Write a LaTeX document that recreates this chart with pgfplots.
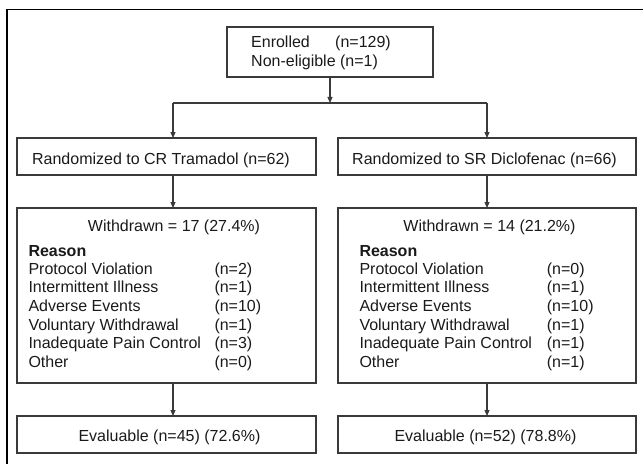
\documentclass[border=0pt]{standalone}
\usepackage{pgfplots}
\pgfplotsset{compat=1.18}
\usetikzlibrary{arrows.meta}
\usepackage{fontspec}
\setmainfont{Liberation Sans}
\definecolor{boxc}{HTML}{3A3A3A}
\definecolor{txt}{HTML}{1A1A1A}
\begin{document}
\begin{tikzpicture}
\begin{axis}[width=643bp,height=464bp,scale only axis,
  xmin=0,xmax=643,ymin=0,ymax=464,y dir=reverse,hide axis,clip=true,
  every axis plot/.append style={line join=miter},
  box/.style={draw=boxc,line width=1.1bp,mark=none},
  arr/.style={draw=boxc,line width=1.1bp,mark=none,-{Triangle[length=6bp,width=5bp]}},
  nodes={font=\fontsize{16bp}{19bp}\selectfont,text=txt,inner sep=0pt}]
\addplot[draw=none] coordinates {(0,0) (643,464)};
% outer frame
\addplot[black,line width=1.8bp,mark=none] coordinates {(7,480) (7,9.5) (660,9.5)};
% boxes
\addplot[box] coordinates {(227,27) (433,27) (433,77) (227,77)} -- cycle;
\addplot[box] coordinates {(17,138) (316,138) (316,175) (17,175)} -- cycle;
\addplot[box] coordinates {(338,138) (636,138) (636,175) (338,175)} -- cycle;
\addplot[box] coordinates {(17,208) (316,208) (316,383) (17,383)} -- cycle;
\addplot[box] coordinates {(338,208) (636,208) (636,383) (338,383)} -- cycle;
\addplot[box] coordinates {(17,416) (316,416) (316,453) (17,453)} -- cycle;
\addplot[box] coordinates {(338,416) (636,416) (636,453) (338,453)} -- cycle;
% connectors
\addplot[arr] coordinates {(330,77) (330,103)};
\addplot[box] coordinates {(173,103) (487,103)};
\addplot[arr] coordinates {(173,103) (173,138)};
\addplot[arr] coordinates {(487,103) (487,138)};
\addplot[arr] coordinates {(173,175) (173,208)};
\addplot[arr] coordinates {(487,175) (487,208)};
\addplot[arr] coordinates {(173,383) (173,416)};
\addplot[arr] coordinates {(487,383) (487,416)};
% texts
\node[anchor=base west] at (axis cs:251,47.7) {Enrolled};
\node[anchor=base west] at (axis cs:335,47.7) {(n=129)};
\node[anchor=base west] at (axis cs:251,66.7) {Non-eligible (n=1)};
\node[anchor=base] at (axis cs:161,164) {Randomized to CR Tramadol (n=62)};
\node[anchor=base] at (axis cs:484.5,164) {Randomized to SR Diclofenac (n=66)};
\node[anchor=base] at (axis cs:174,231) {Withdrawn = 17 (27.4\%)};
\node[anchor=base] at (axis cs:489.5,231) {Withdrawn = 14 (21.2\%)};
\node[anchor=base] at (axis cs:169.5,441) {Evaluable (n=45) (72.6\%)};
\node[anchor=base] at (axis cs:485.5,441) {Evaluable (n=52) (78.8\%)};
% left reasons
\node[anchor=base west,font=\fontsize{16bp}{19bp}\selectfont\bfseries] at (axis cs:28.3,256) {Reason};
\node[anchor=base west] at (axis cs:28.3,274) {Protocol Violation};
\node[anchor=base west] at (axis cs:28.3,292.7) {Intermittent Illness};
\node[anchor=base west] at (axis cs:28.3,311.4) {Adverse Events};
\node[anchor=base west] at (axis cs:28.3,330) {Voluntary Withdrawal};
\node[anchor=base west] at (axis cs:28.3,348.8) {Inadequate Pain Control};
\node[anchor=base west] at (axis cs:28.3,367.5) {Other};
\node[anchor=base west] at (axis cs:214.3,274) {(n=2)};
\node[anchor=base west] at (axis cs:214.3,292.7) {(n=1)};
\node[anchor=base west] at (axis cs:214.3,311.4) {(n=10)};
\node[anchor=base west] at (axis cs:214.3,330) {(n=1)};
\node[anchor=base west] at (axis cs:214.3,348.8) {(n=3)};
\node[anchor=base west] at (axis cs:214.3,367.5) {(n=0)};
% right reasons
\node[anchor=base west,font=\fontsize{16bp}{19bp}\selectfont\bfseries] at (axis cs:359.3,256) {Reason};
\node[anchor=base west] at (axis cs:359.3,274) {Protocol Violation};
\node[anchor=base west] at (axis cs:359.3,292.7) {Intermittent Illness};
\node[anchor=base west] at (axis cs:359.3,311.4) {Adverse Events};
\node[anchor=base west] at (axis cs:359.3,330) {Voluntary Withdrawal};
\node[anchor=base west] at (axis cs:359.3,348.8) {Inadequate Pain Control};
\node[anchor=base west] at (axis cs:359.3,367.5) {Other};
\node[anchor=base west] at (axis cs:546.7,274) {(n=0)};
\node[anchor=base west] at (axis cs:546.7,292.7) {(n=1)};
\node[anchor=base west] at (axis cs:546.7,311.4) {(n=10)};
\node[anchor=base west] at (axis cs:546.7,330) {(n=1)};
\node[anchor=base west] at (axis cs:546.7,348.8) {(n=1)};
\node[anchor=base west] at (axis cs:546.7,367.5) {(n=1)};
\end{axis}
\end{tikzpicture}
\end{document}
